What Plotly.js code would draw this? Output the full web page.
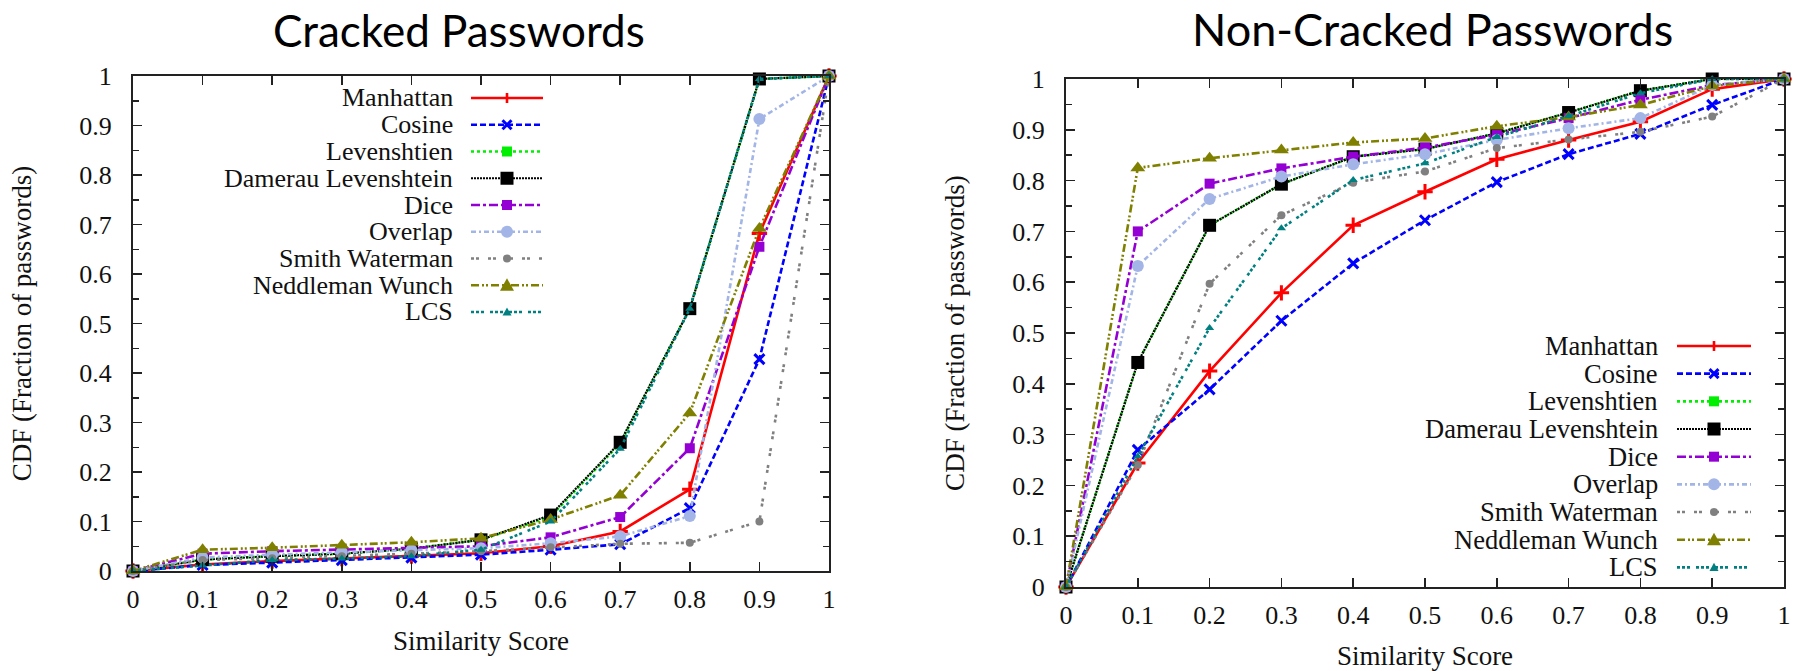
<!DOCTYPE html>
<html>
<head>
<meta charset="utf-8">
<script src="https://cdn.plot.ly/plotly-3.0.1.min.js"></script>
<style>html,body{margin:0;padding:0;background:#fff;}#chart{width:1801px;height:671px;}</style>
</head>
<body>
<div id="chart"></div>
<script>
// ---------------- data ----------------
const similarityScores = [0, 0.1, 0.2, 0.3, 0.4, 0.5, 0.6, 0.7, 0.8, 0.9, 1];
const seriesNames = ["Manhattan", "Cosine", "Levenshtien", "Damerau Levenshtein", "Dice", "Overlap", "Smith Waterman", "Neddleman Wunch", "LCS"];
const panelTitles = ["Cracked Passwords", "Non-Cracked Passwords"];
const xAxisTitle = "Similarity Score";
const yAxisTitle = "CDF (Fraction of passwords)";

// Cracked passwords
const crackedManhattan = [0, 0.013, 0.020, 0.025, 0.030, 0.036, 0.050, 0.080, 0.165, 0.682, 1];
const crackedCosine    = [0, 0.012, 0.017, 0.022, 0.027, 0.033, 0.043, 0.054, 0.127, 0.428, 1];
const crackedLev       = [0, 0.023, 0.030, 0.035, 0.045, 0.063, 0.110, 0.258, 0.530, 0.994, 1];
const crackedDamerau   = [0, 0.023, 0.030, 0.035, 0.045, 0.063, 0.113, 0.260, 0.530, 0.994, 1];
const crackedDice      = [0, 0.035, 0.040, 0.043, 0.047, 0.050, 0.068, 0.109, 0.248, 0.655, 1];
const crackedOverlap   = [0, 0.027, 0.033, 0.038, 0.042, 0.046, 0.056, 0.070, 0.111, 0.913, 1];
const crackedSW        = [0, 0.022, 0.026, 0.030, 0.035, 0.040, 0.048, 0.055, 0.057, 0.100, 1];
const crackedNW        = [0, 0.043, 0.047, 0.052, 0.058, 0.066, 0.104, 0.153, 0.319, 0.692, 1];
const crackedLCS       = [0, 0.011, 0.022, 0.025, 0.030, 0.043, 0.100, 0.247, 0.530, 0.994, 1];

// Non-cracked passwords
const nonCrackedManhattan = [0, 0.244, 0.425, 0.579, 0.712, 0.778, 0.842, 0.880, 0.916, 0.980, 1];
const nonCrackedCosine    = [0, 0.270, 0.389, 0.524, 0.637, 0.722, 0.797, 0.852, 0.892, 0.949, 1];
const nonCrackedLev       = [0, 0.442, 0.712, 0.793, 0.847, 0.862, 0.893, 0.934, 0.977, 1.000, 1];
const nonCrackedDamerau   = [0, 0.442, 0.712, 0.793, 0.847, 0.862, 0.893, 0.934, 0.977, 1.000, 1];
const nonCrackedDice      = [0, 0.700, 0.794, 0.824, 0.847, 0.865, 0.890, 0.923, 0.959, 0.988, 1];
const nonCrackedOverlap   = [0, 0.632, 0.764, 0.808, 0.832, 0.852, 0.880, 0.903, 0.923, 0.988, 1];
const nonCrackedSW        = [0, 0.240, 0.597, 0.732, 0.796, 0.818, 0.864, 0.881, 0.896, 0.926, 1];
const nonCrackedNW        = [0, 0.825, 0.844, 0.860, 0.875, 0.883, 0.907, 0.925, 0.949, 0.986, 1];
const nonCrackedLCS       = [0, 0.257, 0.510, 0.706, 0.801, 0.834, 0.886, 0.927, 0.972, 1.000, 1];

const crackedSeries = [crackedManhattan, crackedCosine, crackedLev, crackedDamerau, crackedDice, crackedOverlap, crackedSW, crackedNW, crackedLCS];
const nonCrackedSeries = [nonCrackedManhattan, nonCrackedCosine, nonCrackedLev, nonCrackedDamerau, nonCrackedDice, nonCrackedOverlap, nonCrackedSW, nonCrackedNW, nonCrackedLCS];

// ---------------- styles ----------------
const W = 1801, H = 671;
const SERIF = "Liberation Serif, Times New Roman, serif";
const styles = [
  {color: "#ff0000", dash: "solid",                       width: 2.6, symbol: "cross-thin-open", size: 11, lw: 3, key: "plus",     ks: 5},
  {color: "#0000ff", dash: "6px,3px",                     width: 2.6, symbol: "x-thin-open",     size: 10, lw: 3, key: "x",        ks: 4.5},
  {color: "#00ee00", dash: "3px,3px",                     width: 2.6, symbol: "square",          size: 9,  lw: 0, key: "square",   ks: 5},
  {color: "#000000", dash: "2px,1px",                     width: 2.2, symbol: "square",          size: 13, lw: 0, key: "square",   ks: 6.5},
  {color: "#9400d3", dash: "9px,3px,3px,3px",             width: 2.6, symbol: "square",          size: 10, lw: 0, key: "square",   ks: 5},
  {color: "#a3b5e6", dash: "5px,3px,2px,3px",             width: 2.6, symbol: "circle",          size: 12, lw: 0, key: "circle",   ks: 6},
  {color: "#808080", dash: "3px,2px,3px,9px",             width: 2.6, symbol: "circle",          size: 8,  lw: 0, key: "circle",   ks: 4},
  {color: "#808000", dash: "8px,3px,2px,2px,2px,3px",     width: 2.6, symbol: "triangle-up",     size: 13, lw: 0, key: "triangle", ks: 7},
  {color: "#008080", dash: "3px,2px,3px,2px,3px,6px",     width: 2.6, symbol: "triangle-up",     size: 8,  lw: 0, key: "triangle", ks: 4.5}
];

const traces = [];
function addPanel(seriesList, xa, ya) {
  seriesList.forEach((vals, i) => {
    const s = styles[i];
    traces.push({
      type: "scatter", mode: "lines+markers",
      x: similarityScores, y: vals, xaxis: xa, yaxis: ya,
      name: seriesNames[i], showlegend: false, cliponaxis: false,
      line: {color: s.color, width: s.width, dash: s.dash},
      marker: {symbol: s.symbol, size: s.size, color: s.color,
               line: {color: s.color, width: s.lw}}
    });
  });
}
addPanel(crackedSeries, "x", "y");
addPanel(nonCrackedSeries, "x2", "y2");

// ---------------- custom gnuplot-style legends ----------------
const px = v => v / W;
const py = v => 1 - v / H;
const shapes = [];
const annotations = [];
function addLegend(textRight, lineX0, lineX1, markX, row0, step, fontSize) {
  seriesNames.forEach((name, i) => {
    const s = styles[i];
    const y = row0 + i * step;
    annotations.push({xref: "paper", yref: "paper", x: px(textRight), y: py(y),
      xanchor: "right", yanchor: "middle", showarrow: false, text: name, borderpad: 0,
      font: {family: SERIF, size: fontSize, color: "#111"}});
    shapes.push({type: "line", xref: "paper", yref: "paper",
      x0: px(lineX0), x1: px(lineX1), y0: py(y), y1: py(y),
      line: {color: s.color, width: s.width, dash: s.dash}});
    const k = s.ks;
    if (s.key === "square") {
      shapes.push({type: "rect", xref: "paper", yref: "paper", x0: px(markX - k), x1: px(markX + k),
        y0: py(y - k), y1: py(y + k), fillcolor: s.color, line: {width: 0}});
    } else if (s.key === "circle") {
      shapes.push({type: "circle", xref: "paper", yref: "paper", x0: px(markX - k), x1: px(markX + k),
        y0: py(y - k), y1: py(y + k), fillcolor: s.color, line: {width: 0}});
    } else if (s.key === "triangle") {
      const p = `M ${px(markX - k)} ${py(y + k * 0.8)} L ${px(markX + k)} ${py(y + k * 0.8)} L ${px(markX)} ${py(y - k)} Z`;
      shapes.push({type: "path", xref: "paper", yref: "paper", path: p, fillcolor: s.color, line: {width: 0}});
    } else if (s.key === "plus") {
      shapes.push({type: "line", xref: "paper", yref: "paper", x0: px(markX), x1: px(markX), y0: py(y - k), y1: py(y + k), line: {color: s.color, width: 2.6}});
    } else if (s.key === "x") {
      shapes.push({type: "line", xref: "paper", yref: "paper", x0: px(markX - k), x1: px(markX + k), y0: py(y - k), y1: py(y + k), line: {color: s.color, width: 3}});
      shapes.push({type: "line", xref: "paper", yref: "paper", x0: px(markX - k), x1: px(markX + k), y0: py(y + k), y1: py(y - k), line: {color: s.color, width: 3}});
    }
  });
}
addLegend(454, 471, 543, 507, 98, 26.75, 26);
addLegend(1659, 1677, 1751, 1714, 346, 27.67, 26.5);

// panel titles
annotations.push({xref: "paper", yref: "paper", x: px(459), y: py(30), xanchor: "center", yanchor: "middle",
  showarrow: false, text: panelTitles[0], font: {family: "Lato, Open Sans, sans-serif", size: 44, color: "#000"}});
annotations.push({xref: "paper", yref: "paper", x: px(1432), y: 1, xanchor: "center", yanchor: "top",
  showarrow: false, text: panelTitles[1], font: {family: "Lato, Open Sans, sans-serif", size: 45, color: "#000"}});

// ---------------- axes ----------------
function xAxis(domain, anchor) {
  return {domain: domain, anchor: anchor, range: [0, 1], tick0: 0, dtick: 0.1,
    ticks: "inside", ticklen: 9, tickwidth: 1.5, tickcolor: "#222",
    showline: true, linecolor: "#222", linewidth: 2, mirror: "ticks",
    showgrid: false, zeroline: false, ticklabelstandoff: 4,
    tickfont: {family: SERIF, size: 26, color: "#111"},
    title: {text: xAxisTitle, font: {family: SERIF, size: 27, color: "#111"}, standoff: 18}};
}
function yAxis(domain, anchor) {
  return {domain: domain, anchor: anchor, range: [0, 1], tick0: 0, dtick: 0.1,
    ticks: "inside", ticklen: 9, tickwidth: 1.5, tickcolor: "#222",
    minor: {dtick: 0.05, ticks: "inside", ticklen: 6, tickwidth: 1.5, tickcolor: "#222"},
    showline: true, linecolor: "#222", linewidth: 2, mirror: "ticks",
    showgrid: false, zeroline: false, ticklabelstandoff: 14,
    tickfont: {family: SERIF, size: 26, color: "#111"},
    title: {text: yAxisTitle, font: {family: SERIF, size: 27, color: "#111"}, standoff: 40}};
}

const layout = {
  width: W, height: H,
  margin: {l: 0, r: 0, t: 0, b: 0, autoexpand: false},
  paper_bgcolor: "#fff", plot_bgcolor: "#fff",
  showlegend: false,
  xaxis: xAxis([133 / W, 829 / W], "y"),
  yaxis: yAxis([(H - 571) / H, (H - 76) / H], "x"),
  xaxis2: xAxis([1066 / W, 1784 / W], "y2"),
  yaxis2: yAxis([(H - 587) / H, (H - 79) / H], "x2"),
  shapes: shapes,
  annotations: annotations
};

Plotly.newPlot("chart", traces, layout, {staticPlot: true, displayModeBar: false});
</script>
</body>
</html>
